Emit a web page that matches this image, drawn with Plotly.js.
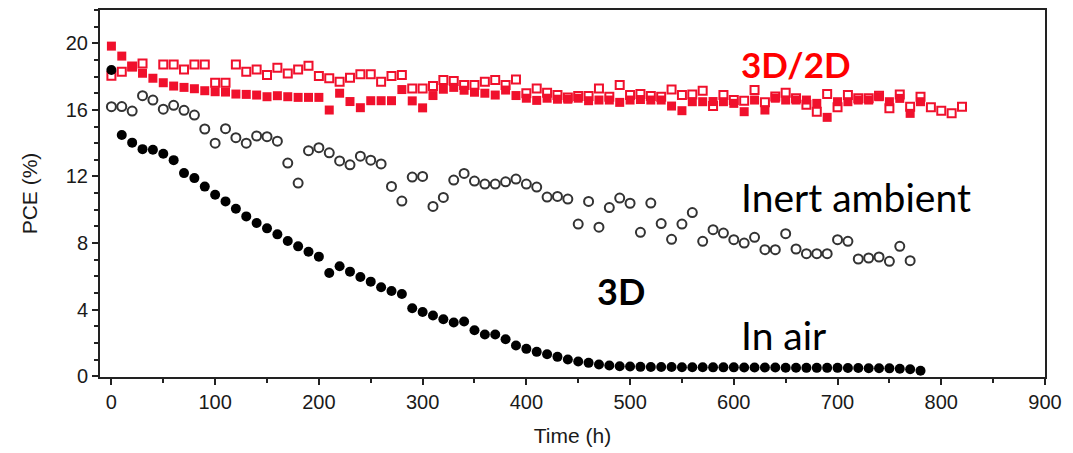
<!DOCTYPE html>
<html>
<head>
<meta charset="utf-8">
<script src="https://cdn.plot.ly/plotly-3.0.1.min.js"></script>
<style>
  html, body { margin: 0; padding: 0; background: #fff; }
  #chart { width: 1073px; height: 453px; }
</style>
</head>
<body>
<div id="chart"></div>
<script>
// Time (h)
const hours = [0,10,20,30,40,50,60,70,80,90,100,110,120,130,140,150,160,170,180,190,
  200,210,220,230,240,250,260,270,280,290,300,310,320,330,340,350,360,370,380,390,
  400,410,420,430,440,450,460,470,480,490,500,510,520,530,540,550,560,570,580,590,
  600,610,620,630,640,650,660,670,680,690,700,710,720,730,740,750,760,770,780,790,
  800,810,820];

// 3D/2D, open squares (PCE %)
const pce3D2DOpen = [18.05,18.29,18.6,18.79,null,18.73,18.73,18.43,18.73,18.73,
  17.63,17.63,18.73,18.29,18.43,18.09,18.53,18.19,18.43,18.65,
  18.03,17.9,17.69,17.93,18.14,18.14,17.69,18.03,18.09,17.29,
  17.29,17.43,17.79,17.73,17.49,17.49,17.69,17.79,17.49,17.83,
  17.0,17.29,17.03,16.89,16.75,16.83,16.83,17.29,16.79,17.49,
  16.89,16.95,16.83,16.79,17.23,16.89,16.93,17.15,16.23,16.89,
  16.6,16.55,17.19,16.45,16.8,17.03,16.7,16.3,15.89,16.95,
  16.15,16.89,16.7,16.7,16.85,16.1,16.93,16.19,16.79,16.15,
  15.95,15.79,16.19];

// 3D/2D, filled squares (PCE %)
const pce3D2DFilled = [19.83,19.23,18.59,18.2,17.9,17.63,17.43,17.35,17.27,17.15,
  17.09,17.07,16.95,16.93,16.89,16.79,16.85,16.79,16.75,16.75,
  16.75,15.99,17.0,16.5,16.13,16.55,16.55,16.55,17.22,16.54,
  16.12,16.86,17.24,17.35,17.18,17.06,17.0,16.89,17.19,16.86,
  16.7,16.57,16.7,16.64,16.64,16.7,16.55,16.59,16.59,16.45,
  16.59,16.62,16.59,16.59,16.23,15.95,16.49,16.49,16.5,16.49,
  16.39,15.89,16.59,15.99,16.7,16.59,16.59,16.59,16.39,15.55,
  16.49,16.49,16.59,16.59,16.79,16.49,16.69,15.79,16.49];

// 3D, inert ambient (open circles)
const pce3DInert = [16.19,16.2,15.93,16.85,16.59,16.04,16.27,15.97,15.69,14.85,
  14.0,14.87,14.33,14.0,14.43,14.39,14.12,12.8,11.6,13.55,
  13.73,13.42,12.93,12.7,13.22,12.98,12.75,11.4,10.52,11.96,
  12.0,10.2,10.74,11.78,12.18,11.72,11.54,11.54,11.68,11.84,
  11.54,11.36,10.76,10.8,10.64,9.14,10.5,8.95,10.13,10.7,
  10.39,8.64,10.4,9.17,8.22,9.14,9.83,8.1,8.8,8.6,
  8.2,8.0,8.34,7.6,7.6,8.56,7.64,7.36,7.36,7.36,
  8.2,8.1,7.04,7.1,7.16,6.9,7.8,6.94];

// 3D, in air (filled circles)
const pce3DAir = [18.4,14.49,14.03,13.64,13.6,13.36,12.98,12.2,11.9,11.39,
  10.9,10.5,10.06,9.6,9.2,8.88,8.52,8.12,7.8,7.48,
  7.18,6.2,6.6,6.28,5.96,5.68,5.34,5.12,4.94,4.08,
  3.86,3.64,3.42,3.22,3.28,2.76,2.5,2.5,2.22,1.84,
  1.64,1.46,1.32,1.16,1.0,0.88,0.8,0.7,0.64,0.6,
  0.58,0.56,0.55,0.55,0.55,0.54,0.54,0.54,0.53,0.53,
  0.53,0.52,0.52,0.52,0.52,0.51,0.51,0.5,0.5,0.5,
  0.5,0.49,0.49,0.48,0.48,0.47,0.45,0.42,0.33];

const xTicks = [0,100,200,300,400,500,600,700,800,900];
const yTicks = [0,4,8,12,16,20];

const red = '#f0102c';

const traces = [
  { x: hours, y: pce3D2DOpen, type: 'scatter', mode: 'markers', name: '3D/2D open',
    marker: { symbol: 'square-open', size: 8, color: red, line: { width: 2, color: red } } },
  { x: hours, y: pce3D2DFilled, type: 'scatter', mode: 'markers', name: '3D/2D',
    marker: { symbol: 'square', size: 9, color: red, line: { width: 0 } } },
  { x: hours, y: pce3DInert, type: 'scatter', mode: 'markers', name: 'Inert ambient',
    marker: { symbol: 'circle-open', size: 9, color: '#333', line: { width: 2, color: '#333' } } },
  { x: hours, y: pce3DAir, type: 'scatter', mode: 'markers', name: 'In air',
    marker: { symbol: 'circle', size: 10, color: '#000', line: { width: 0 } } }
];

const tickFont = { family: 'Liberation Sans, Arial, sans-serif', size: 20, color: '#1a1a1a' };
const titleFont = { family: 'Liberation Sans, Arial, sans-serif', size: 21, color: '#1a1a1a' };
const labelFont = { family: 'Lato, sans-serif', size: 39, color: '#000' };

const layout = {
  width: 1073, height: 453,
  margin: { l: 100, r: 28, t: 10, b: 76 },
  paper_bgcolor: '#fff', plot_bgcolor: '#fff',
  showlegend: false,
  xaxis: {
    range: [-11, 900], tickvals: xTicks, ticktext: xTicks.map(String),
    ticks: 'outside', ticklen: 6, tickwidth: 2, tickcolor: '#222',
    minor: { tickvals: [50,150,250,350,450,550,650,750,850], ticks: 'outside', ticklen: 4, tickwidth: 2, tickcolor: '#222' },
    showline: true, linewidth: 2, linecolor: '#222', mirror: true,
    showgrid: false, zeroline: false, tickfont: tickFont,
    title: { text: 'Time (h)', font: titleFont, standoff: 16 }
  },
  yaxis: {
    range: [-0.05, 22], tickvals: yTicks, ticktext: yTicks.map(String),
    ticks: 'outside', ticklen: 6, tickwidth: 2, tickcolor: '#222',
    minor: { tickvals: [1,2,3,5,6,7,9,10,11,13,14,15,17,18,19,21,22], ticks: 'outside', ticklen: 4, tickwidth: 2, tickcolor: '#222' },
    showline: true, linewidth: 2, linecolor: '#222', mirror: true,
    showgrid: false, zeroline: false, tickfont: tickFont,
    title: { text: 'PCE (%)', font: titleFont, standoff: 22 }
  },
  annotations: [
    { text: '<b>3D/2D</b>', x: 605, y: 18.75, xref: 'x', yref: 'y', xanchor: 'left', yanchor: 'middle',
      showarrow: false, font: { family: 'Lato, sans-serif', size: 35, color: '#ff0000' } },
    { text: 'Inert ambient', x: 605, y: 10.75, xref: 'x', yref: 'y', xanchor: 'left', yanchor: 'middle',
      showarrow: false, font: labelFont },
    { text: '<b>3D</b>', x: 466, y: 5.1, xref: 'x', yref: 'y', xanchor: 'left', yanchor: 'middle',
      showarrow: false, font: { family: 'Lato, sans-serif', size: 36, color: '#000' } },
    { text: 'In air', x: 605, y: 2.45, xref: 'x', yref: 'y', xanchor: 'left', yanchor: 'middle',
      showarrow: false, font: labelFont }
  ]
};

Plotly.newPlot('chart', traces, layout, { displayModeBar: false, staticPlot: true });
</script>
</body>
</html>
